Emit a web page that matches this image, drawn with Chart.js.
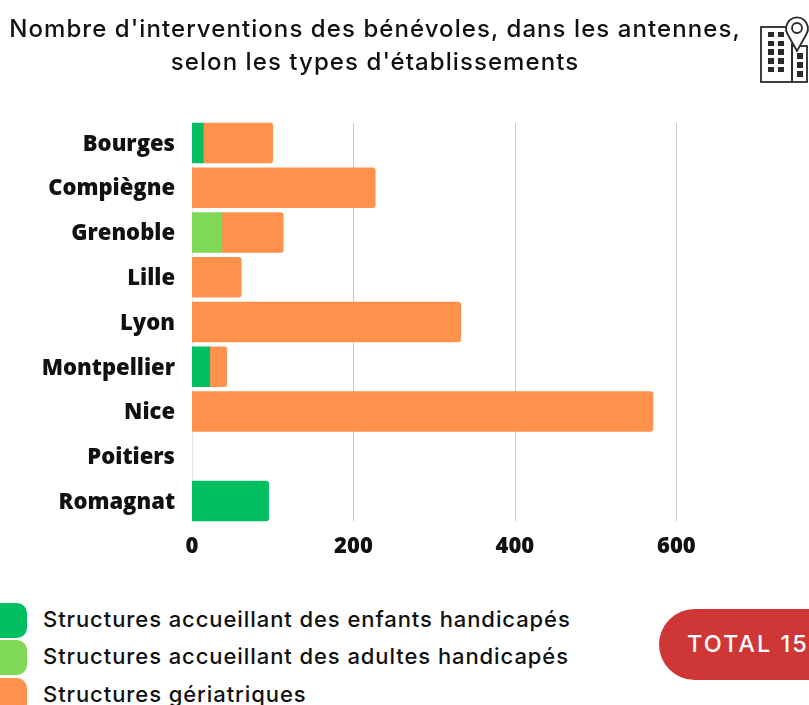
<!DOCTYPE html>
<html lang="fr">
<head>
<meta charset="utf-8">
<title>Interventions des bénévoles</title>
<script src="https://cdn.jsdelivr.net/npm/chart.js@4/dist/chart.umd.min.js"></script>
<style>
  html, body { margin: 0; padding: 0; background: #fff; }
  body { position: relative; width: 809px; height: 705px; overflow: hidden; font-family: Inter, sans-serif; color: #111; }
  #chart { position: absolute; left: 0; top: 0; }
  #title { position: absolute; left: 0; top: 12px; width: 750px; text-align: center; font-size: 24px; font-weight: 500; line-height: 33px; letter-spacing: 1.07px; }
  #icon { position: absolute; left: 758px; top: 16px; overflow: visible; }
  .swatch { position: absolute; left: -14px; width: 41px; height: 35px; border-radius: 10px; }
  .legend-label { position: absolute; left: 43px; font-size: 22px; font-weight: 500; line-height: 26px; letter-spacing: 0.92px; white-space: nowrap; }
  #total { position: absolute; left: 659px; top: 609px; width: 260px; height: 71px; border-radius: 36px; background: #cf3636; color: #fff; font-size: 23.5px; font-weight: 500; line-height: 69px; letter-spacing: 2px; text-indent: 28px; white-space: nowrap; }
</style>
</head>
<body>
<canvas id="chart" width="900" height="600"></canvas>
<div id="title">Nombre d'interventions des bénévoles, dans les antennes,<br>selon les types d'établissements</div>
<svg id="icon" width="50" height="68" viewBox="0 0 50 68" fill="none" stroke="#2a2a2a" stroke-width="1.8">
  <rect x="3" y="11" width="31" height="55"/>
  <rect x="34" y="30" width="15" height="36"/>
  <path d="M39 35 L29.5 18 A11 11 0 1 1 48.5 18 Z" fill="#fff"/>
  <circle cx="39" cy="12" r="5"/>
  <g fill="#2a2a2a" stroke="none">
    <rect x="10" y="16" width="6" height="5"/><rect x="20" y="16" width="6" height="5"/>
    <rect x="10" y="25" width="6" height="5"/><rect x="20" y="25" width="6" height="5"/>
    <rect x="10" y="33" width="6" height="6"/><rect x="20" y="33" width="6" height="6"/>
    <rect x="10" y="42" width="6" height="6"/><rect x="20" y="42" width="6" height="6"/>
    <rect x="10" y="51" width="6" height="5"/><rect x="20" y="51" width="6" height="5"/>
    <rect x="39" y="37" width="6" height="6"/><rect x="39" y="46" width="6" height="6"/><rect x="39" y="55" width="6" height="6"/>
  </g>
</svg>
<div id="total">TOTAL 157</div>
<script>
const antennes = ["Bourges", "Compiègne", "Grenoble", "Lille", "Lyon", "Montpellier", "Nice", "Poitiers", "Romagnat"];
const enfants = [14, null, null, null, null, 22, null, null, 95];
const adultes = [null, null, 37, null, null, null, null, null, null];
const geriatriques = [86, 227, 76, 61, 333, 21, 571, null, null];
const xTicks = [0, 200, 400, 600, 800];

const seriesNames = [
  "Structures accueillant des enfants handicapés",
  "Structures accueillant des adultes handicapés",
  "Structures gériatriques",
];
const seriesColors = ["#02bf62", "#7fd957", "#ff914d"];

const tickFont = { family: "'Open Sans'", size: 22, weight: "800" };

// coins arrondis seulement au bout de la barre empilée
function endRadius(ctx) {
  const i = ctx.dataIndex;
  const later = [enfants, adultes, geriatriques].slice(ctx.datasetIndex + 1);
  const isLast = later.every((s) => !s[i]);
  return isLast ? { topLeft: 0, bottomLeft: 0, topRight: 3, bottomRight: 3 } : 0;
}

// la grille s'arrête au ras des barres du haut et du bas
const shortGrid = {
  id: "shortGrid",
  beforeDatasetsDraw(chart) {
    const { ctx, scales } = chart;
    const top = scales.y.getPixelForValue(0) - 20;
    const bottom = scales.y.getPixelForValue(antennes.length - 1) + 20;
    ctx.save();
    ctx.lineWidth = 1;
    xTicks.forEach((v) => {
      const x = Math.round(scales.x.getPixelForValue(v)) + 0.5;
      ctx.strokeStyle = v === 0 ? "#e6e6e6" : "#c8c8c8";
      ctx.beginPath();
      ctx.moveTo(x, top);
      ctx.lineTo(x, bottom);
      ctx.stroke();
    });
    ctx.restore();
  },
};

new Chart(document.getElementById("chart"), {
  type: "bar",
  data: {
    labels: antennes,
    datasets: [enfants, adultes, geriatriques].map((values, i) => ({
      label: seriesNames[i],
      data: values,
      backgroundColor: seriesColors[i],
      borderWidth: 0,
      borderRadius: endRadius,
      borderSkipped: false,
      barThickness: 40,
    })),
  },
  plugins: [shortGrid],
  options: {
    indexAxis: "y",
    responsive: false,
    animation: false,
    layout: { padding: { top: 120.6, right: 62.2, left: 0, bottom: 0 } },
    plugins: { legend: { display: false }, title: { display: false }, tooltip: { enabled: false } },
    scales: {
      x: {
        stacked: true,
        min: 0,
        max: 800,
        ticks: { stepSize: 200, color: "#111", font: tickFont, padding: 10, maxRotation: 0 },
        border: { display: false },
        grid: { display: false, drawTicks: false },
        afterFit: (scale) => { scale.height = 76.6; },
      },
      y: {
        stacked: true,
        ticks: { color: "#111", font: tickFont, padding: 17, autoSkip: false, labelOffset: 1.5 },
        border: { display: false },
        grid: { display: false, drawTicks: false },
        afterFit: (scale) => { scale.width = 192; },
      },
    },
  },
});

// légende
const legendTops = [603, 640, 678];
seriesNames.forEach((name, i) => {
  const sw = document.createElement("div");
  sw.className = "swatch";
  sw.style.top = legendTops[i] + "px";
  sw.style.background = seriesColors[i];
  document.body.appendChild(sw);

  const lab = document.createElement("div");
  lab.className = "legend-label";
  lab.style.top = legendTops[i] + 2.5 + "px";
  lab.textContent = name;
  document.body.appendChild(lab);
});
</script>
</body>
</html>
